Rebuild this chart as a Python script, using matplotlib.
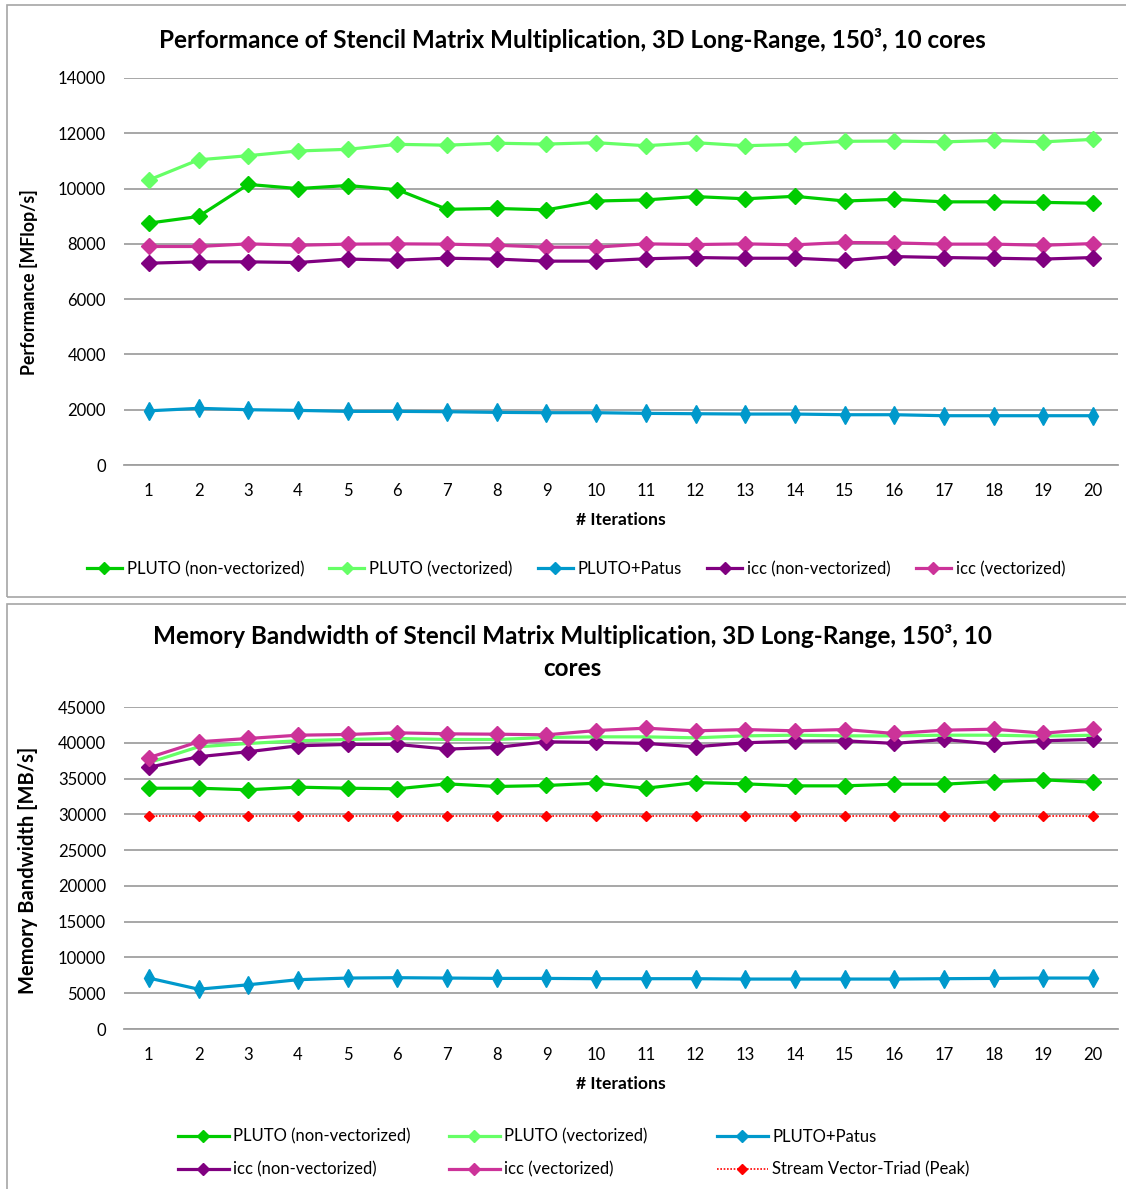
import matplotlib
matplotlib.use('Agg')
import matplotlib.pyplot as plt
from matplotlib.lines import Line2D
from matplotlib.patches import Rectangle

plt.rcParams['font.family'] = ['Lato', 'DejaVu Sans']

iterations = list(range(1, 21))

# Performance [MFlop/s]
perf_pluto_nonvec = [8750, 8990, 10150, 10000, 10110, 9960, 9250, 9280, 9230, 9550,
                     9590, 9710, 9630, 9720, 9550, 9610, 9520, 9520, 9500, 9470]
perf_pluto_vec = [10310, 11040, 11190, 11360, 11420, 11600, 11570, 11640, 11610, 11660,
                  11550, 11660, 11550, 11600, 11710, 11720, 11690, 11740, 11690, 11780]
perf_patus = [1960, 2050, 2000, 1976, 1940, 1940, 1928, 1904, 1892, 1892,
              1868, 1855, 1843, 1843, 1819, 1819, 1783, 1783, 1783, 1783]
perf_icc_nonvec = [7300, 7350, 7350, 7325, 7450, 7410, 7480, 7450, 7375, 7375,
                   7460, 7505, 7480, 7480, 7400, 7540, 7505, 7480, 7450, 7505]
perf_icc_vec = [7905, 7905, 8000, 7950, 7990, 8000, 7990, 7950, 7880, 7880,
                8000, 7975, 8000, 7965, 8050, 8035, 7990, 7990, 7950, 8010]

# Memory bandwidth [MB/s]
bw_pluto_nonvec = [33650, 33650, 33430, 33800, 33650, 33570, 34260, 33890, 34030, 34350,
                   33650, 34440, 34260, 33980, 33980, 34210, 34210, 34580, 34820, 34490]
bw_pluto_vec = [37220, 39440, 39900, 40280, 40460, 40600, 40460, 40460, 40740, 40830,
                40830, 40690, 40970, 41060, 40970, 40970, 41060, 41060, 40930, 41060]
bw_patus = [7120, 5560, 6180, 6890, 7120, 7170, 7120, 7070, 7070, 7030,
            7030, 7030, 6980, 6980, 6980, 6980, 7030, 7070, 7120, 7120]
bw_icc_nonvec = [36570, 38050, 38750, 39580, 39770, 39770, 39120, 39350, 40140, 40050,
                 39910, 39440, 40000, 40230, 40280, 39910, 40460, 39820, 40280, 40460]
bw_icc_vec = [37920, 40140, 40600, 41060, 41160, 41390, 41250, 41200, 41110, 41710,
              42040, 41670, 41850, 41670, 41850, 41300, 41760, 41900, 41340, 41900]
bw_stream = [29750] * 20

perf_ticks = [0, 2000, 4000, 6000, 8000, 10000, 12000, 14000]
bw_ticks = [0, 5000, 10000, 15000, 20000, 25000, 30000, 35000, 40000, 45000]

labels = ['PLUTO (non-vectorized)', 'PLUTO (vectorized)', 'PLUTO+Patus',
          'icc (non-vectorized)', 'icc (vectorized)', 'Stream Vector-Triad (Peak)']

C_PNV = '#00CC00'
C_PV = '#66FF66'
C_PAT = '#0099CC'
C_INV = '#800080'
C_IV = '#CC3399'
C_ST = '#FF0000'
GRID = '#A0A0A0'

W, H = 1126, 1189
fig = plt.figure(figsize=(W / 100, H / 100), dpi=100)


def fx(px):
    return px / W


def fy(py):
    return 1 - py / H


# panel borders
fig.patches.append(Rectangle((fx(7), fy(597)), 1.2, (597 - 5) / H,
                             transform=fig.transFigure, fill=False,
                             edgecolor='#A6A6A6', lw=1.2))
fig.patches.append(Rectangle((fx(7), -0.1), 1.2, 0.1 + (1189 - 604) / H,
                             transform=fig.transFigure, fill=False,
                             edgecolor='#A6A6A6', lw=1.2))

left, right = 124, 1118
ax1 = fig.add_axes([fx(left), fy(465), fx(right - left), (465 - 78) / H])
ax2 = fig.add_axes([fx(left), fy(1029), fx(right - left), (1029 - 707) / H])

lw = 2.3
ms = 8.2


def style(ax, ticks, ylabel, ylabel_size, ylabel_ypos):
    ax.set_xlim(0.5, 20.5)
    ax.set_ylim(ticks[0], ticks[-1])
    ax.set_yticks(ticks)
    ax.set_xticks(iterations)
    ax.grid(axis='y', color=GRID, lw=1.3)
    ax.set_axisbelow(True)
    for s in ['top', 'right', 'left']:
        ax.spines[s].set_visible(False)
    ax.spines['bottom'].set_color(GRID)
    ax.spines['bottom'].set_linewidth(1.3)
    ax.tick_params(axis='both', length=0, labelsize=12, colors='#000000')
    ax.tick_params(axis='x', pad=13)
    ax.tick_params(axis='y', pad=13)
    ax.set_xlabel('# Iterations', fontsize=12.6, fontweight='bold', labelpad=9)
    ax.set_ylabel(ylabel, fontsize=ylabel_size, fontweight='bold')
    ax.yaxis.set_label_coords((38 - left) / (right - left), ylabel_ypos)


# top chart
ax1.plot(iterations, perf_pluto_vec, color=C_PV, lw=lw, marker='D', ms=ms, zorder=3)
ax1.plot(iterations, perf_pluto_nonvec, color=C_PNV, lw=lw, marker='D', ms=ms, zorder=4)
ax1.plot(iterations, perf_patus, color=C_PAT, lw=lw, marker='d', ms=8.8, zorder=3)
ax1.plot(iterations, perf_icc_vec, color=C_IV, lw=lw, marker='D', ms=ms, zorder=3)
ax1.plot(iterations, perf_icc_nonvec, color=C_INV, lw=lw, marker='D', ms=ms, zorder=4)
style(ax1, perf_ticks, 'Performance [MFlop/s]', 12.8, (465 - 282) / (465 - 78))

fig.text(fx(572), fy(40), 'Performance of Stencil Matrix Multiplication, 3D Long-Range, 150³, 10 cores',
         ha='center', va='center', fontsize=17.5, fontweight='bold')

# bottom chart
ax2.plot(iterations, bw_stream, color=C_ST, lw=1.2, ls=(0, (1, 1)), marker='D', ms=4.6, zorder=3)
ax2.plot(iterations, bw_patus, color=C_PAT, lw=lw, marker='d', ms=8.8, zorder=3)
ax2.plot(iterations, bw_pluto_nonvec, color=C_PNV, lw=lw, marker='D', ms=ms, zorder=3)
ax2.plot(iterations, bw_icc_nonvec, color=C_INV, lw=lw, marker='D', ms=ms, zorder=4)
ax2.plot(iterations, bw_pluto_vec, color=C_PV, lw=lw, marker=None, zorder=5)
ax2.plot(iterations, bw_icc_vec, color=C_IV, lw=lw, marker='D', ms=ms, zorder=6)
style(ax2, bw_ticks, 'Memory Bandwidth [MB/s]', 14.5, (1029 - 870) / (1029 - 707))

fig.text(fx(572), fy(636), 'Memory Bandwidth of Stencil Matrix Multiplication, 3D Long-Range, 150³, 10',
         ha='center', va='center', fontsize=17.5, fontweight='bold')
fig.text(fx(572), fy(669), 'cores', ha='center', va='center', fontsize=17.5, fontweight='bold')


def handle(color, ls='-', lwid=lw, msize=6.5):
    return Line2D([], [], color=color, lw=lwid, ls=ls, marker='D', ms=msize)


h_top = [handle(C_PNV), handle(C_PV), handle(C_PAT), handle(C_INV), handle(C_IV)]
fig.legend(h_top, labels[:5], ncol=5, loc='center', bbox_to_anchor=(fx(576), fy(569)),
           frameon=False, fontsize=12, handlelength=2.1, handletextpad=0.3,
           columnspacing=1.5, borderpad=0, borderaxespad=0)

# bottom legend: three equal-width columns
h_bot = [handle(C_PNV), handle(C_PV), handle(C_PAT), handle(C_INV), handle(C_IV),
         handle(C_ST, ls=(0, (1, 1)), lwid=1.2, msize=5)]
col_x = [178, 449, 717]
for i, x in enumerate(col_x):
    fig.legend([h_bot[i], h_bot[i + 3]], [labels[i], labels[i + 3]], ncol=1,
               loc='center left', bbox_to_anchor=(fx(x), fy(1153)),
               frameon=False, fontsize=12, handlelength=3.05, handletextpad=0.25,
               labelspacing=1.0, borderpad=0, borderaxespad=0)

fig.savefig('out.png', dpi=100)
